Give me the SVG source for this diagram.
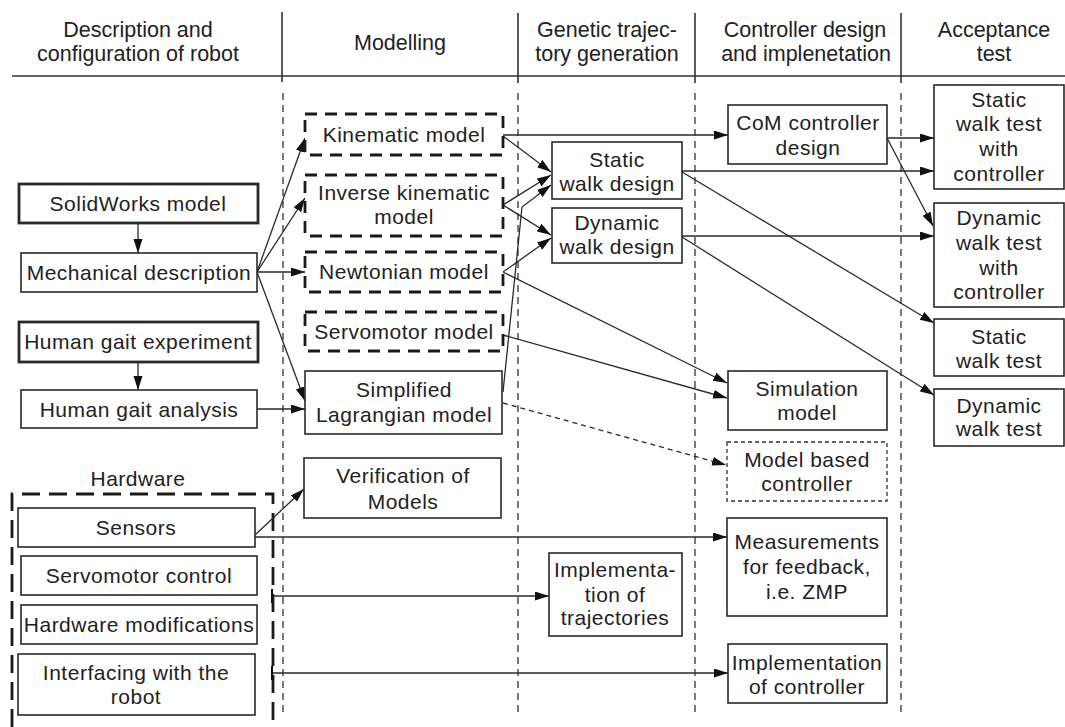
<svg xmlns="http://www.w3.org/2000/svg" width="1065" height="727" viewBox="0 0 1065 727">
<style>
  text { font-family: "Liberation Sans", Arial, Helvetica, sans-serif; font-size: 21px; fill: #222; text-anchor: middle; letter-spacing: 0.5px; }
  .hd { font-size: 21.5px; letter-spacing: 0; }
  .box { fill: #fff; stroke: #2a2a2a; stroke-width: 1.6; }
  .thick { stroke-width: 2.8; }
  .dbox { fill: #fff; stroke: #1a1a1a; stroke-width: 2.8; stroke-dasharray: 12 8; }
  .tdbox { fill: #fff; stroke: #333; stroke-width: 1.3; stroke-dasharray: 4 3; }
  .hw { fill: none; stroke: #1a1a1a; stroke-width: 2.8; stroke-dasharray: 18 9; }
  .col { stroke: #333; stroke-width: 1.3; stroke-dasharray: 7 5; }
  .rule { stroke: #333; stroke-width: 1.6; }
  .c { fill: none; stroke: #2a2a2a; stroke-width: 1.3; marker-end: url(#ah); }
  .cd { stroke-dasharray: 5 4; }
  .bar { marker-start: url(#bar); }
</style>
<defs>
  <marker id="ah" markerUnits="userSpaceOnUse" markerWidth="15" markerHeight="10" refX="14" refY="4.5" orient="auto">
    <path d="M0,0 L14,4.5 L0,9 z" fill="#111"/>
  </marker>
  <marker id="bar" markerUnits="userSpaceOnUse" markerWidth="4" markerHeight="14" refX="2" refY="7" orient="auto">
    <path d="M2,0 V14" stroke="#111" stroke-width="2"/>
  </marker>
</defs>

<!-- header -->
<g id="header">
  <line class="rule" x1="12" y1="76" x2="1065" y2="76"/>
  <line class="rule" x1="282" y1="12" x2="282" y2="82"/>
  <line class="rule" x1="518" y1="13" x2="518" y2="83"/>
  <line class="rule" x1="695" y1="13" x2="695" y2="83"/>
  <line class="rule" x1="901" y1="13" x2="901" y2="83"/>
  <text class="hd" x="138" y="37">Description and</text>
  <text class="hd" x="138" y="61">configuration of robot</text>
  <text class="hd" x="400" y="50">Modelling</text>
  <text class="hd" x="607" y="37">Genetic trajec-</text>
  <text class="hd" x="607" y="61">tory generation</text>
  <text class="hd" x="805" y="37">Controller design</text>
  <text class="hd" x="806" y="61">and implenetation</text>
  <text class="hd" x="994" y="37">Acceptance</text>
  <text class="hd" x="994" y="61">test</text>
</g>

<!-- column separators -->
<g id="columns">
  <line class="col" x1="283" y1="93" x2="283" y2="714"/>
  <line class="col" x1="518" y1="93" x2="518" y2="714"/>
  <line class="col" x1="695" y1="93" x2="695" y2="714"/>
  <line class="col" x1="901" y1="93" x2="901" y2="714"/>
</g>

<!-- hardware group frame -->
<g id="hardware">
  <path class="hw" d="M12,727 V494 H273 V727"/>
  <text x="138" y="486">Hardware</text>
</g>

<!-- connectors -->
<g id="connectors">
  <path class="c" d="M138,223 V253"/>
  <path class="c" d="M138,362 V390"/>
  <path class="c" d="M257,272 L305,138"/>
  <path class="c" d="M257,272 L305,198"/>
  <path class="c" d="M257,272 H305"/>
  <path class="c" d="M257,272 L305,401"/>
  <path class="c" d="M257,409 H305"/>
  <path class="c" d="M255,535 L304,489"/>
  <path class="c" d="M255,537 H727"/>
  <path class="c bar" d="M272,596 H549"/>
  <path class="c bar" d="M272,673 H728"/>
  <path class="c" d="M503,135 H728"/>
  <path class="c" d="M503,136 L551,172"/>
  <path class="c" d="M503,205 L551,175"/>
  <path class="c" d="M503,392 L522,207 L551,185"/>
  <path class="c" d="M503,205 L551,235"/>
  <path class="c" d="M503,272 L551,238"/>
  <path class="c" d="M503,272 L727,383"/>
  <path class="c" d="M503,335 L727,398"/>
  <path class="c cd" d="M503,403 L726,465"/>
  <path class="c" d="M682,171 H934"/>
  <path class="c" d="M682,172 L934,323"/>
  <path class="c" d="M682,236 H934"/>
  <path class="c" d="M682,237 L934,395"/>
  <path class="c" d="M887,138 H934"/>
  <path class="c" d="M887,138 L933,226"/>
</g>

<!-- description and configuration -->
<g id="solidworks">
  <rect class="box thick" x="19" y="184" width="239" height="39"/>
  <text x="138" y="211">SolidWorks model</text>
</g>
<g id="mechanical">
  <rect class="box" x="21" y="253" width="236" height="39"/>
  <text x="139" y="280">Mechanical description</text>
</g>
<g id="gait-experiment">
  <rect class="box thick" x="19" y="322" width="239" height="40"/>
  <text x="138" y="349">Human gait experiment</text>
</g>
<g id="gait-analysis">
  <rect class="box" x="21" y="390" width="236" height="38"/>
  <text x="139" y="417">Human gait analysis</text>
</g>
<g id="sensors">
  <rect class="box" x="18" y="508" width="237" height="39"/>
  <text x="136" y="535">Sensors</text>
</g>
<g id="servo-control">
  <rect class="box" x="21" y="556" width="236" height="39"/>
  <text x="139" y="583">Servomotor control</text>
</g>
<g id="hw-mods">
  <rect class="box" x="21" y="605" width="236" height="39"/>
  <text x="139" y="632">Hardware modifications</text>
</g>
<g id="interfacing">
  <rect class="box" x="18" y="654" width="237" height="61"/>
  <text x="136" y="680">Interfacing with the</text>
  <text x="136" y="704">robot</text>
</g>

<!-- modelling -->
<g id="kinematic">
  <rect class="dbox" x="305" y="114" width="198" height="41"/>
  <text x="404" y="142">Kinematic model</text>
</g>
<g id="inverse-kinematic">
  <rect class="dbox" x="305" y="175" width="198" height="61"/>
  <text x="404" y="200">Inverse kinematic</text>
  <text x="404" y="224">model</text>
</g>
<g id="newtonian">
  <rect class="dbox" x="305" y="252" width="198" height="40"/>
  <text x="404" y="279">Newtonian model</text>
</g>
<g id="servo-model">
  <rect class="dbox" x="305" y="312" width="198" height="39"/>
  <text x="404" y="339">Servomotor model</text>
</g>
<g id="lagrangian">
  <rect class="box" x="305" y="371" width="197" height="63"/>
  <text x="404" y="397">Simplified</text>
  <text x="404" y="422">Lagrangian model</text>
</g>
<g id="verification">
  <rect class="box" x="304" y="458" width="197" height="60"/>
  <text x="403" y="483">Verification of</text>
  <text x="403" y="509">Models</text>
</g>

<!-- trajectory generation -->
<g id="static-design">
  <rect class="box" x="552" y="142" width="130" height="57"/>
  <text x="617" y="167">Static</text>
  <text x="617" y="191">walk design</text>
</g>
<g id="dynamic-design">
  <rect class="box" x="552" y="208" width="130" height="55"/>
  <text x="617" y="230">Dynamic</text>
  <text x="617" y="254">walk design</text>
</g>
<g id="impl-trajectories">
  <rect class="box" x="549" y="553" width="133" height="83"/>
  <text x="615" y="577">Implementa-</text>
  <text x="615" y="602">tion of</text>
  <text x="615" y="625">trajectories</text>
</g>

<!-- controller design -->
<g id="com-controller">
  <rect class="box" x="728" y="105" width="159" height="59"/>
  <text x="808" y="130">CoM controller</text>
  <text x="808" y="155">design</text>
</g>
<g id="simulation">
  <rect class="box" x="728" y="371" width="159" height="59"/>
  <text x="807" y="396">Simulation</text>
  <text x="807" y="420">model</text>
</g>
<g id="model-based">
  <rect class="tdbox" x="727" y="442" width="160" height="59"/>
  <text x="807" y="467">Model based</text>
  <text x="807" y="491">controller</text>
</g>
<g id="measurements">
  <rect class="box" x="727" y="518" width="160" height="98"/>
  <text x="807" y="549">Measurements</text>
  <text x="807" y="574">for feedback,</text>
  <text x="807" y="599">i.e. ZMP</text>
</g>
<g id="impl-controller">
  <rect class="box" x="728" y="644" width="159" height="59"/>
  <text x="807" y="670">Implementation</text>
  <text x="807" y="694">of controller</text>
</g>

<!-- acceptance tests -->
<g id="static-test-ctrl">
  <rect class="box" x="934" y="85" width="130" height="104"/>
  <text x="999" y="107">Static</text>
  <text x="999" y="131">walk test</text>
  <text x="999" y="156">with</text>
  <text x="999" y="181">controller</text>
</g>
<g id="dynamic-test-ctrl">
  <rect class="box" x="934" y="203" width="130" height="104"/>
  <text x="999" y="225">Dynamic</text>
  <text x="999" y="250">walk test</text>
  <text x="999" y="275">with</text>
  <text x="999" y="299">controller</text>
</g>
<g id="static-test">
  <rect class="box" x="934" y="319" width="130" height="57"/>
  <text x="999" y="344">Static</text>
  <text x="999" y="368">walk test</text>
</g>
<g id="dynamic-test">
  <rect class="box" x="934" y="389" width="130" height="57"/>
  <text x="999" y="413">Dynamic</text>
  <text x="999" y="436">walk test</text>
</g>
</svg>
